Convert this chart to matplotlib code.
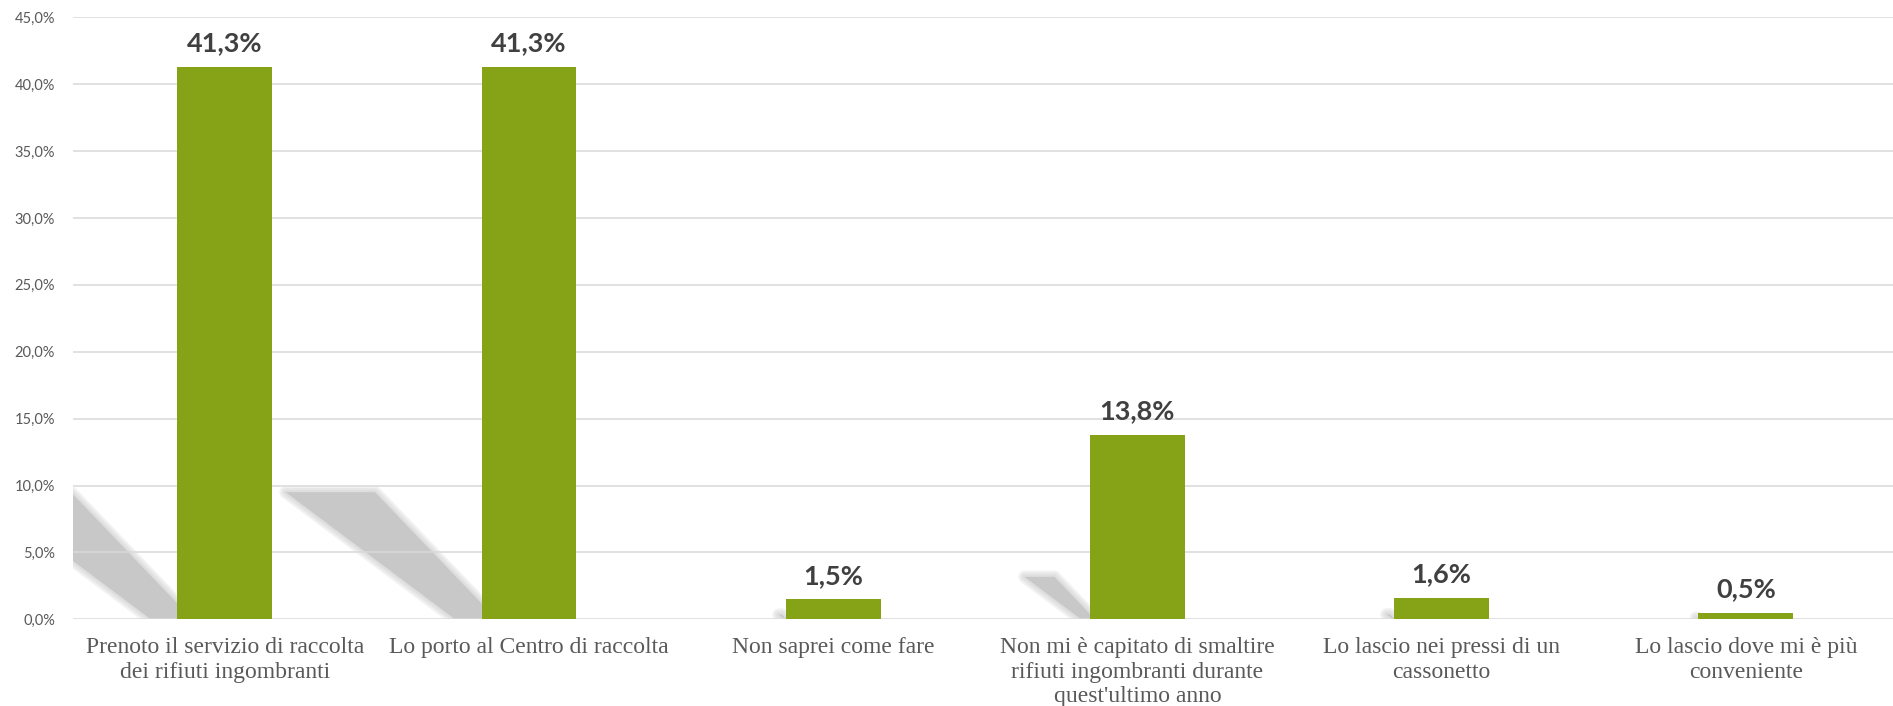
import matplotlib
matplotlib.use("Agg")
import matplotlib.pyplot as plt
from matplotlib.patches import Polygon
from matplotlib.ticker import FuncFormatter

# --- data ---
categories = [
    "Prenoto il servizio di raccolta\ndei rifiuti ingombranti",
    "Lo porto al Centro di raccolta",
    "Non saprei come fare",
    "Non mi è capitato di smaltire\nrifiuti ingombranti durante\nquest'ultimo anno",
    "Lo lascio nei pressi di un\ncassonetto",
    "Lo lascio dove mi è più\nconveniente",
]
values = [41.3, 41.3, 1.5, 13.8, 1.6, 0.5]
y_ticks = [0, 5, 10, 15, 20, 25, 30, 35, 40, 45]

BAR_COLOR = "#86A317"
GRID_COLOR = "#D9D9D9"
SHADOW_COLOR = "#C8C8C8"
BAR_WIDTH = 0.312

plt.rcParams["font.family"] = ["Lato", "DejaVu Sans"]

fig = plt.figure(figsize=(18.93, 7.06), dpi=100)
ax = fig.add_axes([0.0384, 0.1228, 0.9642, 0.8527])

x = list(range(len(categories)))
bars = ax.bar(x, values, width=BAR_WIDTH, color=BAR_COLOR, zorder=2)

# odd perspective shadow the original chart shows, scaled by each bar's value
for bar, v in zip(bars, values):
    xl = bar.get_x()
    hs = 0.23 * v
    k = hs / 9.5
    pts = [(xl + 0.05 * k, 0), (xl - 0.087 * k, 0),
           (xl - 0.644 * k, hs), (xl - 0.35 * k, hs)]
    # blurred look: a few translucent outlines, then the core
    for lw in (9, 6, 3):
        ax.add_patch(Polygon(pts, closed=True, facecolor="none",
                             edgecolor=SHADOW_COLOR, linewidth=lw, alpha=0.25,
                             joinstyle="round", zorder=0.3))
    ax.add_patch(Polygon(pts, closed=True, facecolor=SHADOW_COLOR,
                         edgecolor="none", zorder=0.31))

for bar, v in zip(bars, values):
    ax.annotate(f"{v:.1f}%".replace(".", ","),
                (bar.get_x() + bar.get_width() / 2, v),
                xytext=(0, 11), textcoords="offset points",
                ha="center", va="baseline", fontsize=19.5,
                fontweight="bold", color="#404040")

ax.set_xlim(-0.5, len(categories) - 0.5)
ax.set_ylim(0, 45)
ax.set_yticks(y_ticks)
ax.yaxis.set_major_formatter(FuncFormatter(lambda t, p: f"{t:.1f}%".replace(".", ",")))
ax.set_xticks(x)
ax.set_xticklabels(categories, family="Liberation Serif", fontsize=17,
                   color="#595959", linespacing=1.2)

ax.tick_params(axis="y", length=0, pad=12.7, labelsize=10.5, labelcolor="#595959")
ax.tick_params(axis="x", length=0, pad=13)
ax.grid(axis="y", color=GRID_COLOR, linewidth=1.1, zorder=0.5)
ax.set_axisbelow(True)
for s in ax.spines.values():
    s.set_visible(False)

fig.savefig("out.png", dpi=100)
